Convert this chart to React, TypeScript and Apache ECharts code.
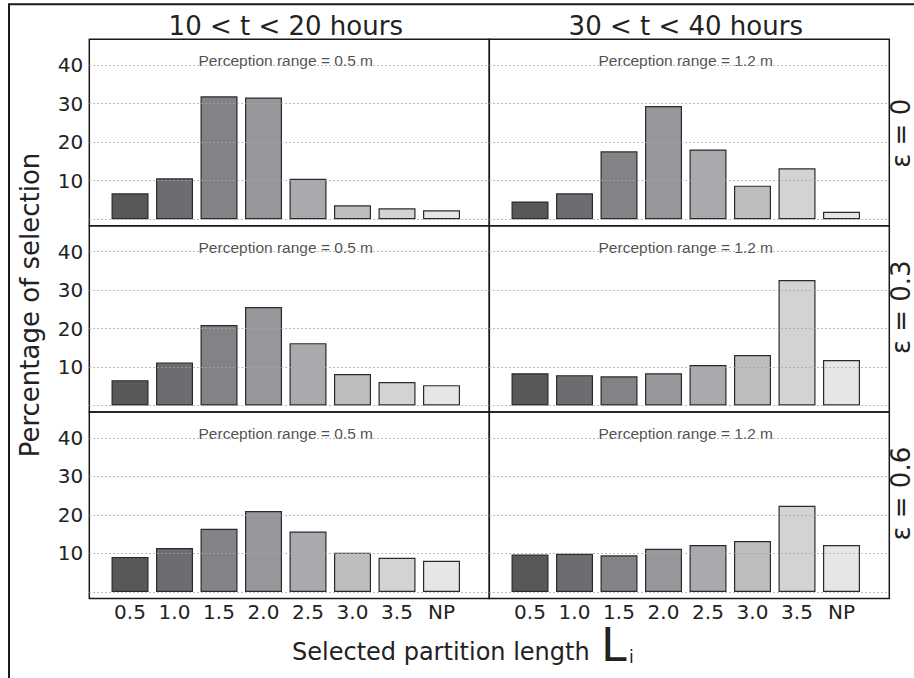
import React, { useEffect, useRef } from "react";
import * as echarts from "echarts";

const categories = ["0.5", "1.0", "1.5", "2.0", "2.5", "3.0", "3.5", "NP"];
const columnTitles = ["10 < t < 20 hours", "30 < t < 40 hours"];
const rowLabels = ["ε = 0", "ε = 0.3", "ε = 0.6"];
const perceptionLabels = ["Perception range = 0.5 m", "Perception range = 1.2 m"];
const yTickValues = [10, 20, 30, 40];
const gridValues = [0, 10, 20, 30, 40];

// values: [row][column]
const eps0_early = [6.7, 10.6, 31.9, 31.6, 10.5, 3.6, 2.8, 2.3];
const eps0_late = [4.6, 6.7, 17.6, 29.4, 18.1, 8.7, 13.2, 1.9];
const eps03_early = [6.6, 11.2, 20.9, 25.6, 16.2, 8.2, 6.1, 5.3];
const eps03_late = [8.4, 7.9, 7.6, 8.4, 10.5, 13.1, 32.6, 11.8];
const eps06_early = [9.1, 11.4, 16.4, 21.0, 15.7, 10.2, 8.9, 8.1];
const eps06_late = [9.7, 9.9, 9.5, 11.2, 12.2, 13.2, 22.4, 12.2];

const panelData = [
  [eps0_early, eps0_late],
  [eps03_early, eps03_late],
  [eps06_early, eps06_late],
];

const barColors = ["#58585a", "#6c6d70", "#828386", "#96979a", "#a9aaad", "#bdbec0", "#d2d3d4", "#e6e6e7"];

const FONT = "DejaVu Sans";
const PANEL_LEFT = 89.3;
const PANEL_W = 400;
const PANEL_TOP = 39.3;
const PANEL_H = 186.4;
const X_MIN = -0.915;
const X_MAX = 8.074;
const Y_MIN = -1.7;
const Y_MAX = 46.7;

export default function App() {
  const ref = useRef<HTMLDivElement>(null);
  useEffect(() => {
    if (!ref.current) return;
    const chart = echarts.init(ref.current, null, { renderer: "svg" });
    const grids: any[] = [];
    const xAxes: any[] = [];
    const yAxes: any[] = [];
    const series: any[] = [];
    const graphics: any[] = [];

    graphics.push({
      type: "rect",
      shape: { x: 9, y: 4.3, width: 2000, height: 2000 },
      style: { fill: "none", stroke: "#1a1a1a", lineWidth: 2 },
      silent: true,
    });

    for (let r = 0; r < 3; r++) {
      for (let c = 0; c < 2; c++) {
        const idx = r * 2 + c;
        grids.push({
          left: PANEL_LEFT + c * PANEL_W,
          top: PANEL_TOP + r * PANEL_H,
          width: PANEL_W,
          height: PANEL_H,
          show: true,
          borderColor: "#1a1a1a",
          borderWidth: 1.5,
          backgroundColor: "transparent",
        });
        xAxes.push({
          type: "value",
          gridIndex: idx,
          min: X_MIN,
          max: X_MAX,
          axisLine: { show: false },
          axisTick: { show: false },
          splitLine: { show: false },
          axisLabel: {
            show: r === 2,
            customValues: categories.map((_, i) => i),
            formatter: (v: number) => categories[Math.round(v)] ?? "",
            fontFamily: FONT,
            fontSize: 20,
            color: "#222",
            margin: 3,
          },
        });
        yAxes.push({
          type: "value",
          gridIndex: idx,
          min: Y_MIN,
          max: Y_MAX,
          axisLine: { show: false },
          axisTick: { show: false },
          splitLine: { show: false },
          axisLabel: {
            show: c === 0,
            customValues: yTickValues,
            fontFamily: FONT,
            fontSize: 20,
            color: "#222",
            margin: 6,
          },
        });
        series.push({
          type: "scatter",
          xAxisIndex: idx,
          yAxisIndex: idx,
          data: [],
          z: 1,
          silent: true,
          markLine: {
            silent: true,
            symbol: ["none", "none"],
            label: { show: false },
            lineStyle: { type: [1.5, 2.5], color: "#a6a6a6", width: 1 },
            data: gridValues.map((v) => ({ yAxis: v })),
          },
        });
        series.push({
          type: "bar",
          xAxisIndex: idx,
          yAxisIndex: idx,
          barWidth: 37,
          z: 2,
          data: panelData[r][c].map((v, i) => ({
            value: [i, v],
            itemStyle: { color: barColors[i], borderColor: "#2b2b2b", borderWidth: 1.2 },
          })),
        });
        series.push({
          type: "scatter",
          xAxisIndex: idx,
          yAxisIndex: idx,
          symbolSize: 0,
          z: 3,
          silent: true,
          data: [[3.5, 41.1]],
          label: {
            show: true,
            position: "inside",
            formatter: perceptionLabels[c],
            fontFamily: "Liberation Sans",
            fontSize: 15.5,
            color: "#222",
          },
        });
      }
      graphics.push({
        type: "text",
        x: 901,
        y: PANEL_TOP + (r + 1) * PANEL_H - 58,
        rotation: Math.PI / 2,
        style: {
          text: rowLabels[r],
          fontFamily: FONT,
          fontSize: 26,
          fill: "#222",
          textAlign: "left",
          textVerticalAlign: "middle",
        },
        silent: true,
      });
    }

    for (let c = 0; c < 2; c++) {
      const cx = PANEL_LEFT + c * PANEL_W + ((3.5 - X_MIN) / (X_MAX - X_MIN)) * PANEL_W;
      graphics.push({
        type: "text",
        x: cx,
        y: 26,
        style: {
          text: columnTitles[c],
          fontFamily: FONT,
          fontSize: 26,
          fill: "#222",
          textAlign: "center",
          textVerticalAlign: "middle",
        },
        silent: true,
      });
    }

    graphics.push({
      type: "text",
      x: 30,
      y: 305,
      rotation: Math.PI / 2,
      style: {
        text: "Percentage of selection",
        fontFamily: FONT,
        fontSize: 26,
        fill: "#222",
        textAlign: "center",
        textVerticalAlign: "middle",
      },
      silent: true,
    });
    graphics.push({
      type: "text",
      x: 292,
      y: 652,
      style: {
        text: "Selected partition length",
        fontFamily: FONT,
        fontSize: 24,
        fill: "#222",
        textAlign: "left",
        textVerticalAlign: "middle",
      },
      silent: true,
    });
    graphics.push({
      type: "text",
      x: 601,
      y: 645,
      style: {
        text: "L",
        fontFamily: FONT,
        fontSize: 46,
        fill: "#222",
        textAlign: "left",
        textVerticalAlign: "middle",
      },
      silent: true,
    });
    graphics.push({
      type: "text",
      x: 629,
      y: 657,
      style: {
        text: "i",
        fontFamily: FONT,
        fontSize: 17,
        fill: "#222",
        textAlign: "left",
        textVerticalAlign: "middle",
      },
      silent: true,
    });

    chart.setOption({
      animation: false,
      backgroundColor: "#ffffff",
      grid: grids,
      xAxis: xAxes,
      yAxis: yAxes,
      series,
      graphic: graphics,
    });
    return () => chart.dispose();
  }, []);
  return (
    <div
      ref={ref}
      style={{ position: "fixed", left: 0, top: 0, width: 914, height: 678 }}
    />
  );
}
